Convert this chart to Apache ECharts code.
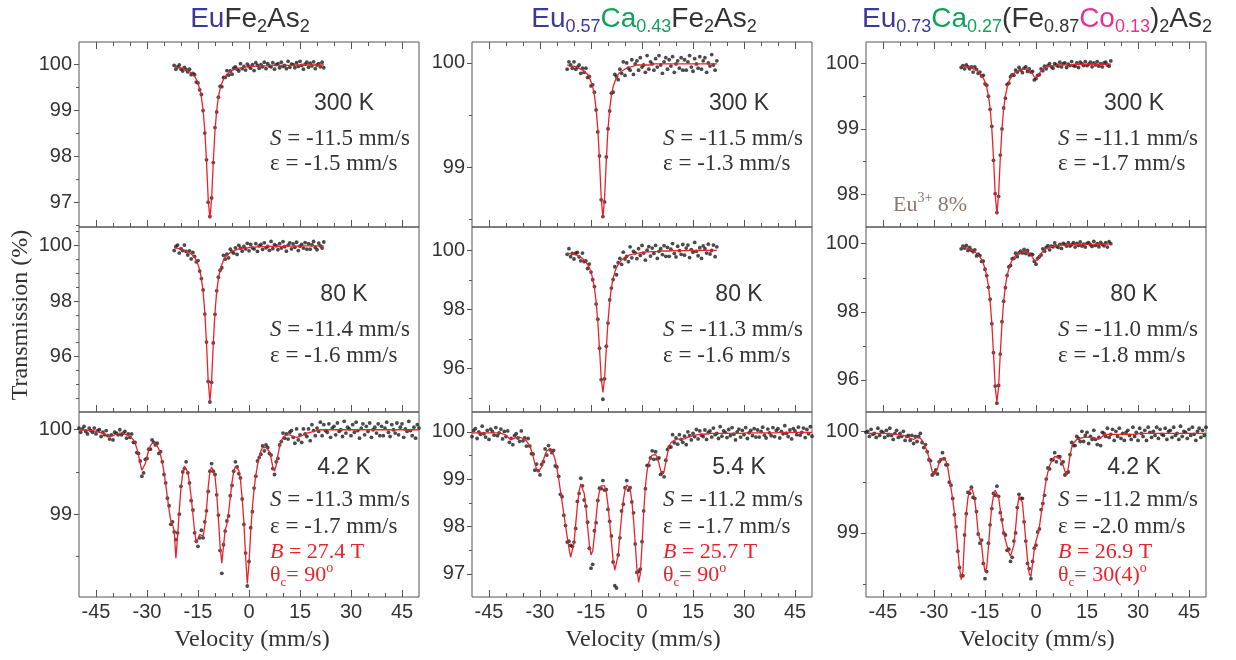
<!DOCTYPE html>
<html><head><meta charset="utf-8">
<script src="https://cdn.jsdelivr.net/npm/echarts@6/dist/echarts.min.js"></script>
<style>html,body{margin:0;padding:0;background:#fff}#c{width:1236px;height:660px}</style>
</head><body><div id="c"></div>
<script>
// ---------- velocity grids (mm/s) ----------
const vTop=[-22,-21.5,-21,-20.5,-20,-19.5,-19,-18.5,-18,-17.5,
-17,-16.5,-16,-15.5,-15,-14.5,-14,-13.5,-13,-12.5,
-12,-11.5,-11,-10.5,-10,-9.5,-9,-8.5,-8,-7.5,
-7,-6.5,-6,-5.5,-5,-4.5,-4,-3.5,-3,-2.5,
-2,-1.5,-1,-0.5,0,0.5,1,1.5,2,2.5,
3,3.5,4,4.5,5,5.5,6,6.5,7,7.5,
8,8.5,9,9.5,10,10.5,11,11.5,12,12.5,
13,13.5,14,14.5,15,15.5,16,16.5,17,17.5,
18,18.5,19,19.5,20,20.5,21,21.5,22];
const vBot=[-50,-49.5,-49,-48.5,-48,-47.5,-47,-46.5,-46,-45.5,
-45,-44.5,-44,-43.5,-43,-42.5,-42,-41.5,-41,-40.5,
-40,-39.5,-39,-38.5,-38,-37.5,-37,-36.5,-36,-35.5,
-35,-34.5,-34,-33.5,-33,-32.5,-32,-31.5,-31,-30.5,
-30,-29.5,-29,-28.5,-28,-27.5,-27,-26.5,-26,-25.5,
-25,-24.5,-24,-23.5,-23,-22.5,-22,-21.5,-21,-20.5,
-20,-19.5,-19,-18.5,-18,-17.5,-17,-16.5,-16,-15.5,
-15,-14.5,-14,-13.5,-13,-12.5,-12,-11.5,-11,-10.5,
-10,-9.5,-9,-8.5,-8,-7.5,-7,-6.5,-6,-5.5,
-5,-4.5,-4,-3.5,-3,-2.5,-2,-1.5,-1,-0.5,
0,0.5,1,1.5,2,2.5,3,3.5,4,4.5,
5,5.5,6,6.5,7,7.5,8,8.5,9,9.5,
10,10.5,11,11.5,12,12.5,13,13.5,14,14.5,
15,15.5,16,16.5,17,17.5,18,18.5,19,19.5,
20,20.5,21,21.5,22,22.5,23,23.5,24,24.5,
25,25.5,26,26.5,27,27.5,28,28.5,29,29.5,
30,30.5,31,31.5,32,32.5,33,33.5,34,34.5,
35,35.5,36,36.5,37,37.5,38,38.5,39,39.5,
40,40.5,41,41.5,42,42.5,43,43.5,44,44.5,
45,45.5,46,46.5,47,47.5,48,48.5,49,49.5,
50];

// ---------- EuFe2As2 ----------
const fit11=[99.95,99.94,99.94,99.93,99.92,99.91,99.90,99.89,99.87,99.85,
99.82,99.79,99.74,99.68,99.59,99.47,99.29,99.01,98.56,97.90,
97.08,96.65,97.08,97.90,98.56,99.01,99.29,99.47,99.59,99.68,
99.74,99.79,99.82,99.85,99.87,99.89,99.90,99.91,99.92,99.93,
99.94,99.94,99.95,99.95,99.96,99.96,99.96,99.96,99.97,99.97,
99.97,99.97,99.97,99.97,99.97,99.97,99.98,99.98,99.98,99.98,
99.98,99.98,99.98,99.98,99.98,99.98,99.98,99.98,99.98,99.98,
99.99,99.99,99.99,99.99,99.99,99.99,99.99,99.99,99.99,99.99,
99.99,99.99,99.99,99.99,99.99,99.99,99.99,99.99,99.99];
const dat11=[99.98,99.90,99.95,99.99,99.90,99.86,99.94,99.89,99.84,99.90,
99.78,99.81,99.78,99.62,99.60,99.45,99.35,99.00,98.51,97.93,
97.01,96.70,97.10,97.87,98.63,98.97,99.29,99.53,99.52,99.72,
99.72,99.87,99.77,99.86,99.79,99.92,99.95,99.90,99.86,100.02,
99.91,99.96,99.88,100.01,99.96,99.92,100.00,99.87,100.04,99.98,
99.92,100.00,99.95,100.05,99.91,100.02,99.97,99.95,100.04,99.90,
100.00,100.02,99.93,100.05,99.96,99.98,99.91,100.07,99.94,100.01,
100.00,99.93,100.04,99.96,100.07,99.98,99.90,100.01,100.05,99.94,
100.03,99.97,100.06,99.91,99.99,100.02,99.95,100.05,99.93];
const fit21=[99.92,99.91,99.90,99.89,99.87,99.86,99.84,99.81,99.78,99.75,
99.70,99.65,99.57,99.47,99.32,99.12,98.81,98.34,97.60,96.48,
95.12,94.40,95.12,96.48,97.60,98.34,98.81,99.12,99.32,99.47,
99.57,99.65,99.70,99.75,99.78,99.81,99.84,99.86,99.87,99.89,
99.90,99.91,99.92,99.92,99.93,99.94,99.94,99.94,99.95,99.95,
99.95,99.96,99.96,99.96,99.96,99.97,99.97,99.97,99.97,99.97,
99.97,99.97,99.97,99.97,99.98,99.98,99.98,99.98,99.98,99.98,
99.98,99.98,99.98,99.98,99.98,99.98,99.99,99.99,99.99,99.99,
99.99,99.99,99.99,99.99,99.99,99.99,99.99,99.99,99.99];
const dat21=[99.82,99.97,100.02,99.73,99.89,99.82,100.02,99.79,99.66,99.81,
99.52,99.75,99.61,99.41,99.46,99.08,98.81,98.40,97.53,96.52,
95.10,94.36,95.07,96.49,97.52,98.37,98.86,99.11,99.20,99.65,
99.51,99.69,99.56,99.87,99.78,99.73,99.92,99.68,100.01,99.91,
99.80,99.97,99.88,100.08,99.81,100.04,99.92,99.88,100.07,99.79,
99.99,100.04,99.86,100.10,99.92,99.97,99.83,100.15,99.89,100.03,
99.99,99.85,100.07,99.91,100.14,99.96,99.80,100.02,100.10,99.88,
100.06,99.94,100.12,99.82,99.98,100.04,99.91,100.11,99.87,100.07,
99.87,100.03,100.15,99.93,99.85,100.09,99.99,99.91,100.13];
const fit31=[100,100,100,100,100,99.99,99.99,99.99,99.99,99.98,
99.98,99.97,99.97,99.96,99.96,99.95,99.94,99.93,99.92,99.92,
99.93,99.94,99.95,99.96,99.96,99.96,99.96,99.95,99.94,99.93,
99.92,99.90,99.88,99.84,99.78,99.70,99.60,99.52,99.53,99.60,
99.68,99.76,99.81,99.84,99.85,99.84,99.82,99.77,99.70,99.61,
99.50,99.35,99.20,99.05,98.92,98.88,98.80,98.48,98.74,99.05,
99.32,99.48,99.57,99.58,99.50,99.37,99.20,99.00,98.80,98.66,
98.66,98.76,98.78,98.74,98.86,99.05,99.32,99.50,99.56,99.54,
99.45,99.24,98.95,98.62,98.42,98.62,98.82,98.88,99.02,99.20,
99.38,99.50,99.57,99.58,99.52,99.40,99.18,98.90,98.50,98.18,
98.42,98.80,99.08,99.30,99.46,99.58,99.68,99.75,99.79,99.80,
99.79,99.78,99.74,99.66,99.56,99.51,99.58,99.70,99.80,99.87,
99.91,99.93,99.94,99.94,99.94,99.93,99.92,99.91,99.91,99.91,
99.92,99.93,99.94,99.95,99.96,99.97,99.97,99.98,99.98,99.99,
99.99,100,100,100,100,100,100,100,100,100,
100,100,100,100,100,100,100,100,100,100,
100,100,100,100,100,100,100,100,100,100,
100,100,100,100,100,100,100,100,100,100,
100,100,100,100,100,100,100,100,100,100,
100,100,100,100,100,100,100,100,100,100,
100];
const dat31=[100.02,99.97,100.01,100.04,99.98,99.95,100.02,99.99,99.97,100.02,
99.95,99.99,100.00,99.92,99.97,99.94,99.99,99.93,99.89,99.94,
99.88,99.97,99.96,99.94,100.00,99.94,99.96,99.98,99.90,99.95,
99.91,99.95,99.85,99.85,99.73,99.72,99.63,99.45,99.49,99.65,
99.66,99.77,99.77,99.88,99.85,99.82,99.84,99.72,99.74,99.62,
99.47,99.37,99.19,99.10,98.88,98.91,98.79,98.70,98.78,99.00,
99.33,99.50,99.54,99.62,99.49,99.37,99.16,99.05,98.78,98.68,
98.62,98.72,98.81,98.72,98.91,99.04,99.27,99.51,99.60,99.51,
99.47,99.23,98.99,98.57,98.30,98.64,98.80,98.92,98.98,99.22,
99.34,99.51,99.62,99.56,99.48,99.43,99.18,98.88,98.54,98.15,
98.44,98.84,99.03,99.31,99.45,99.63,99.67,99.71,99.81,99.75,
99.82,99.79,99.72,99.70,99.54,99.47,99.62,99.66,99.82,99.86,
99.96,99.90,99.95,99.89,99.97,99.99,99.91,99.84,100.01,99.88,
99.94,99.85,100.01,99.95,99.92,100.01,99.87,100.06,99.99,99.93,
100.02,99.98,100.09,99.93,100.06,99.99,99.97,100.07,99.91,100.02,
100.04,99.94,100.08,99.98,100.00,99.92,100.10,99.96,100.03,100.01,
99.93,100.06,99.97,100.09,99.99,99.90,100.02,100.07,99.94,100.04,
99.98,100.08,99.91,100.00,100.03,99.96,100.07,99.93,100.04,99.93,
100.02,100.09,99.97,99.92,100.06,100.00,99.96,100.08,99.94,100.03,
100.07,99.91,100.01,99.98,100.10,99.99,99.93,100.03,99.90,100.06,
100.02];

// ---------- Eu0.57Ca0.43Fe2As2 ----------
const fit12=[99.98,99.98,99.97,99.97,99.97,99.96,99.96,99.95,99.94,99.93,
99.92,99.91,99.89,99.86,99.82,99.77,99.69,99.56,99.37,99.07,
98.71,98.52,98.71,99.07,99.37,99.56,99.69,99.77,99.82,99.86,
99.89,99.91,99.92,99.93,99.94,99.95,99.96,99.96,99.97,99.97,
99.97,99.98,99.98,99.98,99.98,99.98,99.98,99.98,99.98,99.98,
99.98,99.99,99.99,99.99,99.99,99.99,99.99,99.99,99.99,99.99,
99.99,99.99,99.99,99.99,99.99,99.99,99.99,99.99,99.99,99.99,
99.99,99.99,99.99,99.99,99.99,99.99,99.99,99.99,99.99,99.99,
99.99,99.99,99.99,99.99,99.99,99.99,99.99,99.99,99.99];
const dat12=[99.94,100.01,99.98,99.95,100.01,99.94,99.96,99.98,99.90,99.95,
99.91,99.95,99.86,99.87,99.78,99.79,99.72,99.55,99.34,99.11,
98.69,98.53,98.67,99.10,99.37,99.54,99.71,99.72,99.89,99.87,
99.84,99.94,99.90,100.01,99.88,100.00,99.95,99.93,100.03,99.89,
99.99,100.02,99.93,100.05,99.96,99.98,99.91,100.07,99.94,100.01,
99.99,99.93,100.04,99.96,100.07,99.98,99.90,100.01,100.05,99.94,
100.03,99.97,100.06,99.91,99.99,100.02,99.95,100.05,99.93,100.03,
99.93,100.01,100.07,99.96,99.92,100.04,99.99,99.95,100.06,99.94,
100.02,100.05,99.91,100.00,99.97,100.08,99.98,99.93,100.02];
const fit22=[99.90,99.89,99.88,99.87,99.86,99.84,99.82,99.79,99.76,99.72,
99.67,99.60,99.52,99.41,99.26,99.04,98.73,98.27,97.60,96.68,
95.68,95.20,95.68,96.68,97.60,98.27,98.73,99.04,99.26,99.41,
99.52,99.60,99.67,99.72,99.76,99.79,99.82,99.84,99.86,99.87,
99.88,99.89,99.90,99.91,99.92,99.93,99.93,99.94,99.94,99.95,
99.95,99.95,99.95,99.96,99.96,99.96,99.97,99.97,99.97,99.97,
99.97,99.97,99.98,99.98,99.98,99.98,99.98,99.98,99.98,99.98,
99.98,99.99,99.99,99.99,99.99,99.99,99.99,99.99,99.99,99.99,
99.99,99.99,99.99,99.99,99.99,99.99,99.99,99.99,99.99];
const dat22=[99.86,100.05,99.78,99.89,99.70,99.90,99.92,99.77,99.64,99.90,
99.61,99.64,99.38,99.53,99.26,99.00,98.77,98.18,97.67,96.69,
95.63,94.97,95.66,96.76,97.54,98.32,98.72,99.01,99.44,99.17,
99.58,99.72,99.52,99.93,99.70,99.79,99.61,100.11,99.74,99.96,
99.91,99.71,100.05,99.82,100.16,99.90,99.66,100.00,100.12,99.80,
100.07,99.89,100.16,99.72,99.96,100.05,99.85,100.15,99.79,100.09,
99.79,100.03,100.22,99.89,99.77,100.13,99.98,99.86,100.19,99.83,
100.07,100.17,99.75,100.02,99.93,100.26,99.96,99.81,100.08,99.72,
100.14,100.05,99.90,100.20,99.87,99.99,100.17,99.78,100.11];
const fit32=[99.98,99.98,99.98,99.98,99.98,99.98,99.98,99.98,99.98,99.98,
99.98,99.98,99.98,99.98,99.98,99.98,99.98,99.97,99.96,99.95,
99.93,99.90,99.86,99.84,99.85,99.87,99.88,99.89,99.89,99.88,
99.86,99.84,99.81,99.77,99.70,99.60,99.47,99.33,99.21,99.16,
99.17,99.26,99.40,99.52,99.60,99.63,99.64,99.61,99.52,99.40,
99.23,99.00,98.76,98.52,98.27,98.02,97.78,97.55,97.35,97.38,
97.65,98.05,98.45,98.75,98.90,98.88,98.70,98.40,98.00,97.62,
97.40,97.48,97.80,98.20,98.55,98.76,98.86,98.88,98.86,98.72,
98.45,98.08,97.68,97.30,97.08,97.10,97.40,97.82,98.22,98.55,
98.77,98.88,98.89,98.80,98.55,98.15,97.65,97.12,96.82,97.00,
97.60,98.30,98.85,99.18,99.35,99.45,99.51,99.53,99.52,99.46,
99.33,99.18,99.12,99.17,99.35,99.55,99.70,99.77,99.80,99.82,
99.84,99.85,99.85,99.84,99.84,99.85,99.87,99.89,99.90,99.91,
99.92,99.93,99.93,99.94,99.94,99.95,99.95,99.95,99.96,99.96,
99.96,99.97,99.97,99.97,99.97,99.97,99.97,99.97,99.97,99.97,
99.97,99.97,99.97,99.97,99.97,99.97,99.97,99.97,99.97,99.97,
99.97,99.98,99.98,99.98,99.98,99.98,99.98,99.98,99.98,99.98,
99.98,99.98,99.98,99.98,99.98,99.98,99.98,99.98,99.98,99.98,
99.98,99.99,99.99,99.99,99.99,99.99,99.99,99.99,99.99,99.99,
99.99,99.99,99.99,99.99,99.99,99.99,99.99,99.99,99.99,99.99,
99.99];
const dat32=[99.90,100.03,100.07,99.86,100.00,99.95,100.12,99.96,99.89,100.03,
99.84,100.06,100.01,99.93,100.09,99.92,99.98,100.06,99.85,100.01,
99.90,100.02,99.78,99.86,99.73,99.92,99.96,99.87,99.80,100.02,
99.81,99.87,99.70,99.86,99.70,99.54,99.53,99.19,99.32,99.18,
99.09,99.31,99.37,99.64,99.51,99.71,99.62,99.56,99.61,99.28,
99.26,99.06,98.68,98.63,98.24,98.02,97.67,97.69,97.60,97.58,
97.67,97.96,98.53,98.70,99.02,98.86,98.56,98.43,98.09,97.54,
97.12,97.20,97.91,98.08,98.55,98.81,98.80,98.97,98.77,98.78,
98.36,98.11,97.80,97.25,96.75,96.70,97.40,97.76,98.33,98.47,
98.82,98.97,98.77,98.82,98.52,98.29,97.63,97.03,97.05,97.10,
97.68,98.33,98.80,99.29,99.29,99.45,99.60,99.42,99.58,99.43,
99.45,99.10,99.14,99.05,99.40,99.63,99.68,99.68,99.94,99.77,
99.87,99.74,99.94,99.84,99.78,99.91,99.73,100.00,99.92,99.83,
99.97,99.90,100.05,99.85,100.02,99.93,99.90,100.04,99.84,99.99,
100.02,99.89,100.08,99.94,99.97,99.86,100.11,99.91,100.02,99.99,
99.88,100.05,99.92,100.09,99.95,99.83,100.00,100.06,99.89,100.03,
99.94,100.09,99.86,99.98,100.03,99.92,100.07,99.89,100.04,99.89,
100.01,100.10,99.93,99.87,100.06,99.98,99.92,100.09,99.90,100.03,
100.07,99.87,100.01,99.96,100.13,99.97,99.90,100.04,99.85,100.07,
100.02,99.94,100.10,99.93,99.99,100.08,99.88,100.05,99.96,100.11,
99.91];

// ---------- Eu0.73Ca0.27(Fe0.87Co0.13)2As2 ----------
const fit13=[99.96,99.96,99.96,99.95,99.95,99.94,99.93,99.92,99.91,99.90,
99.88,99.85,99.82,99.78,99.72,99.64,99.51,99.32,99.01,98.56,
98.00,97.70,98.00,98.56,99.01,99.32,99.51,99.63,99.72,99.78,
99.82,99.85,99.87,99.89,99.90,99.91,99.91,99.92,99.92,99.91,
99.90,99.88,99.84,99.79,99.77,99.80,99.85,99.89,99.92,99.94,
99.95,99.96,99.96,99.97,99.97,99.97,99.98,99.98,99.98,99.98,
99.98,99.98,99.98,99.98,99.98,99.98,99.98,99.99,99.99,99.99,
99.99,99.99,99.99,99.99,99.99,99.99,99.99,99.99,99.99,99.99,
99.99,99.99,99.99,99.99,99.99,99.99,99.99,99.99,99.99];
const dat13=[99.94,99.97,99.92,99.98,99.95,99.92,99.95,99.87,99.95,99.91,
99.85,99.87,99.81,99.82,99.69,99.67,99.50,99.30,99.04,98.52,
98.01,97.72,97.97,98.60,99.00,99.32,99.47,99.68,99.70,99.80,
99.83,99.82,99.90,99.87,99.94,99.90,99.86,99.93,99.95,99.88,
99.92,99.87,99.88,99.75,99.77,99.82,99.83,99.92,99.89,99.96,
99.92,99.97,100.00,99.95,99.93,100.00,99.98,99.96,100.02,99.95,
100.00,100.01,99.94,99.99,99.97,100.03,99.97,99.96,100.01,99.94,
100.02,100.00,99.97,100.03,99.97,99.99,100.02,99.95,100.01,99.98,
100.03,99.96,100.00,99.95,100.01,100.02,99.98,99.96,100.04];
const fit23=[99.90,99.90,99.89,99.87,99.86,99.84,99.82,99.79,99.76,99.72,
99.67,99.61,99.53,99.42,99.27,99.06,98.76,98.32,97.67,96.78,
95.81,95.35,95.81,96.78,97.67,98.32,98.76,99.06,99.26,99.41,
99.52,99.59,99.65,99.70,99.73,99.75,99.77,99.77,99.77,99.76,
99.73,99.67,99.60,99.51,99.47,99.52,99.62,99.71,99.78,99.83,
99.86,99.88,99.90,99.92,99.93,99.93,99.94,99.95,99.95,99.95,
99.96,99.96,99.96,99.96,99.97,99.97,99.97,99.97,99.97,99.97,
99.97,99.98,99.98,99.98,99.98,99.98,99.98,99.98,99.98,99.98,
99.98,99.98,99.98,99.98,99.98,99.99,99.99,99.99,99.99];
const dat23=[99.85,99.93,99.87,99.95,99.80,99.89,99.81,99.76,99.82,99.64,
99.69,99.65,99.48,99.49,99.25,99.06,98.72,98.37,97.65,96.80,
95.82,95.32,95.84,96.76,97.71,98.31,98.71,99.07,99.32,99.36,
99.56,99.57,99.72,99.62,99.73,99.78,99.73,99.83,99.71,99.80,
99.67,99.69,99.68,99.48,99.40,99.57,99.62,99.67,99.85,99.78,
99.89,99.94,99.82,99.93,99.91,100.02,99.93,99.89,99.98,99.86,
100.01,99.98,99.93,100.03,99.93,99.97,100.03,99.90,100.01,99.95,
100.05,99.93,99.99,99.90,100.01,100.03,99.97,99.92,100.07,99.95,
100.00,99.91,100.04,99.98,99.94,100.03,99.90,100.06,100.00];
const fit33=[99.98,99.98,99.98,99.98,99.98,99.98,99.98,99.98,99.98,99.98,
99.98,99.98,99.98,99.98,99.98,99.97,99.97,99.97,99.97,99.97,
99.96,99.96,99.96,99.96,99.95,99.94,99.93,99.92,99.92,99.93,
99.94,99.94,99.93,99.91,99.88,99.84,99.80,99.74,99.67,99.60,
99.57,99.58,99.63,99.69,99.73,99.74,99.74,99.71,99.65,99.55,
99.44,99.33,99.20,99.02,98.84,98.66,98.54,98.62,98.96,99.20,
99.35,99.42,99.44,99.40,99.32,99.18,99.00,98.94,98.88,98.72,
98.62,98.66,98.86,99.08,99.26,99.37,99.42,99.42,99.35,99.23,
99.11,99.01,98.93,98.87,98.81,98.77,98.78,98.88,99.05,99.24,
99.36,99.37,99.30,99.12,98.92,98.74,98.60,98.57,98.70,98.84,
98.92,98.98,99.06,99.18,99.30,99.42,99.52,99.60,99.66,99.70,
99.73,99.75,99.75,99.75,99.73,99.70,99.66,99.61,99.57,99.64,
99.76,99.84,99.88,99.90,99.92,99.93,99.93,99.94,99.94,99.94,
99.94,99.94,99.94,99.94,99.94,99.93,99.92,99.92,99.93,99.95,
99.96,99.97,99.97,99.97,99.97,99.97,99.97,99.97,99.97,99.97,
99.97,99.97,99.97,99.97,99.97,99.97,99.97,99.97,99.97,99.97,
99.97,99.98,99.98,99.98,99.98,99.98,99.98,99.98,99.98,99.98,
99.98,99.98,99.98,99.98,99.98,99.98,99.98,99.98,99.98,99.98,
99.98,99.98,99.98,99.98,99.98,99.98,99.98,99.98,99.98,99.98,
99.98,99.98,99.98,99.98,99.98,99.98,99.98,99.98,99.98,99.98,
99.98];
const dat33=[99.99,100.00,99.95,100.02,99.97,99.98,99.94,100.03,99.96,100.00,
99.99,99.94,100.01,99.96,100.03,99.96,99.92,99.98,100.01,99.94,
99.98,99.95,100.00,99.91,99.95,99.96,99.91,99.96,99.88,99.95,
99.90,99.95,99.98,99.89,99.84,99.87,99.80,99.72,99.71,99.57,
99.59,99.62,99.58,99.70,99.72,99.79,99.73,99.67,99.67,99.50,
99.47,99.34,99.18,99.06,98.82,98.66,98.58,98.58,98.98,99.19,
99.40,99.39,99.45,99.35,99.34,99.21,98.99,98.90,98.93,98.70,
98.55,98.62,98.90,99.08,99.24,99.39,99.37,99.46,99.36,99.20,
99.13,99.00,98.98,98.83,98.84,98.72,98.76,98.92,99.00,99.25,
99.38,99.34,99.34,99.11,98.92,98.70,98.65,98.55,98.72,98.85,
98.88,99.01,99.04,99.23,99.29,99.37,99.53,99.64,99.63,99.72,
99.72,99.79,99.70,99.75,99.75,99.68,99.70,99.57,99.59,99.60,
99.77,99.89,99.86,99.86,99.95,99.93,99.90,100.00,99.90,99.96,
99.99,99.88,99.95,99.92,100.01,99.92,99.87,99.94,99.86,99.99,
99.98,99.95,100.03,99.94,99.97,100.02,99.91,100.00,99.95,100.03,
99.93,99.98,99.91,99.99,100.01,99.96,99.92,100.04,99.95,99.99,
99.91,100.03,99.98,99.95,100.01,99.91,100.04,99.99,99.94,100.00,
99.96,100.04,99.93,100.02,99.97,99.96,100.03,99.92,100.00,100.01,
99.94,100.04,99.96,99.98,99.92,100.05,99.95,100.00,99.99,99.93,
100.02,99.96,100.04,99.97,99.91,100.00,100.03,99.94,100.01,99.96,
100.04];

// ---------- tick labels ----------
const xTickLabels=[-45,-30,-15,0,15,30,45];
const xMinorTicks=[-40,-35,-25,-20,-10,-5,5,10,20,25,35,40];
const yLab11=[97,98,99,100], yMin11=[96.5,97.5,98.5,99.5];
const yLab21=[96,98,100], yMin21=[94.5,95,95.5,96.5,97,97.5,98.5,99,99.5,100.5];
const yLab31=[99,100], yMin31=[98.5,99.5];
const yLab12=[99,100], yMin12=[98.5,99.5];
const yLab22=[96,98,100], yMin22=[95,97,99];
const yLab32=[97,98,99,100], yMin32=[97.5,98.5,99.5];
const yLab13=[98,99,100], yMin13=[98.5,99.5];
const yLab23=[96,98,100], yMin23=[97,99];
const yLab33=[99,100], yMin33=[98.5,99.5];

// ---------- text content ----------
const tempLabels=[['300 K','80 K','4.2 K'],['300 K','80 K','5.4 K'],['300 K','80 K','4.2 K']];
const sVals=[['-11.5','-11.4','-11.3'],['-11.5','-11.3','-11.2'],['-11.1','-11.0','-11.2']];
const epsVals=[['-1.5','-1.6','-1.7'],['-1.3','-1.6','-1.7'],['-1.7','-1.8','-2.0']];
const bVals=['27.4','25.7','26.9'];
const thetaVals=['90','90','30(4)'];

// ---------- panel setup ----------
const panels=[
 {row:0,col:0,v:vTop,fit:fit11,dat:dat11,ymin:96.47,ymax:100.49,yl:yLab11,ym:yMin11},
 {row:1,col:0,v:vTop,fit:fit21,dat:dat21,ymin:94.0,ymax:100.67,yl:yLab21,ym:yMin21},
 {row:2,col:0,v:vBot,fit:fit31,dat:dat31,ymin:98.02,ymax:100.21,yl:yLab31,ym:yMin31},
 {row:0,col:1,v:vTop,fit:fit12,dat:dat12,ymin:98.43,ymax:100.2,yl:yLab12,ym:yMin12},
 {row:1,col:1,v:vTop,fit:fit22,dat:dat22,ymin:94.54,ymax:100.78,yl:yLab22,ym:yMin22},
 {row:2,col:1,v:vBot,fit:fit32,dat:dat32,ymin:96.51,ymax:100.42,yl:yLab32,ym:yMin32},
 {row:0,col:2,v:vTop,fit:fit13,dat:dat13,ymin:97.5,ymax:100.33,yl:yLab13,ym:yMin13},
 {row:1,col:2,v:vTop,fit:fit23,dat:dat23,ymin:95.06,ymax:100.49,yl:yLab23,ym:yMin23},
 {row:2,col:2,v:vBot,fit:fit33,dat:dat33,ymin:98.37,ymax:100.19,yl:yLab33,ym:yMin33}
];
const colLeft=[79,472,866], rowTop=[42,227,412], PW=340, PH=185;
const AX='#555', TXT='#333', RED='#e8232b';
const SANS='"Liberation Sans", Arial, sans-serif';
const SERIF='"Liberation Serif", "Times New Roman", serif';

const grid=[], xAxis=[], yAxis=[], series=[];
panels.forEach((p,k)=>{
  grid.push({left:colLeft[p.col],top:rowTop[p.row],width:PW,height:PH,show:true,borderColor:AX,borderWidth:1,backgroundColor:'transparent'});
  const base={gridIndex:k,type:'value',min:-50,max:50,axisLine:{show:false,onZero:false},splitLine:{show:false}};
  const xi=xAxis.length;
  xAxis.push(Object.assign({},base,{position:'bottom',
    axisTick:{show:true,inside:true,length:4,customValues:xMinorTicks,lineStyle:{color:AX}},
    axisLabel:{show:p.row===2,customValues:xTickLabels,fontSize:20,color:TXT,fontFamily:SANS,margin:5}}));
  xAxis.push(Object.assign({},base,{position:'bottom',
    axisTick:{show:true,inside:true,length:7,customValues:xTickLabels,lineStyle:{color:AX}},
    axisLabel:{show:false}}));
  if(p.row===0){
    xAxis.push(Object.assign({},base,{position:'top',
      axisTick:{show:true,inside:true,length:4,customValues:xMinorTicks,lineStyle:{color:AX}},axisLabel:{show:false}}));
    xAxis.push(Object.assign({},base,{position:'top',
      axisTick:{show:true,inside:true,length:7,customValues:xTickLabels,lineStyle:{color:AX}},axisLabel:{show:false}}));
  }
  const yi=yAxis.length;
  const yb={gridIndex:k,type:'value',min:p.ymin,max:p.ymax,position:'left',axisLine:{show:false,onZero:false},splitLine:{show:false}};
  yAxis.push(Object.assign({},yb,{
    axisTick:{show:true,inside:false,length:5,customValues:p.yl,lineStyle:{color:AX}},
    axisLabel:{customValues:p.yl,fontSize:20,color:TXT,fontFamily:SANS,margin:7}}));
  yAxis.push(Object.assign({},yb,{
    axisTick:{show:true,inside:false,length:3,customValues:p.ym,lineStyle:{color:AX}},
    axisLabel:{show:false}}));
  series.push({type:'scatter',xAxisIndex:xi,yAxisIndex:yi,symbolSize:3.8,silent:true,
    itemStyle:{color:'#1e1e1e'},data:p.v.map((x,i)=>[x,p.dat[i]]),z:2});
  series.push({type:'line',xAxisIndex:xi,yAxisIndex:yi,showSymbol:false,silent:true,
    lineStyle:{color:RED,width:1.3},data:p.fit.map((y,i)=>[p.v[i],y]),z:3});
});

// ---------- texts ----------
const g=[];
function addText(x,y,text,style,extra){
  g.push(Object.assign({type:'text',x:x,y:y,silent:true,
    style:Object.assign({text:text,align:'left',verticalAlign:'middle',fill:TXT,fontFamily:SERIF,fontSize:23},style)},extra||{}));
}
const titleRich={
  eu:{fill:'#3a3a98',fontFamily:SANS,fontSize:28,lineHeight:34},
  eus:{fill:'#3a3a98',fontFamily:SANS,fontSize:18,lineHeight:18,verticalAlign:'bottom'},
  ca:{fill:'#12a15a',fontFamily:SANS,fontSize:28,lineHeight:34},
  cas:{fill:'#12a15a',fontFamily:SANS,fontSize:18,lineHeight:18,verticalAlign:'bottom'},
  co:{fill:'#e8318f',fontFamily:SANS,fontSize:28,lineHeight:34},
  cos:{fill:'#e8318f',fontFamily:SANS,fontSize:18,lineHeight:18,verticalAlign:'bottom'},
  k:{fill:TXT,fontFamily:SANS,fontSize:28,lineHeight:34},
  ks:{fill:TXT,fontFamily:SANS,fontSize:18,lineHeight:18,verticalAlign:'bottom'}
};
const titles=['{eu|Eu}{k|Fe}{ks|2}{k|As}{ks|2}',
  '{eu|Eu}{eus|0.57}{ca|Ca}{cas|0.43}{k|Fe}{ks|2}{k|As}{ks|2}',
  '{eu|Eu}{eus|0.73}{ca|Ca}{cas|0.27}{k|(Fe}{ks|0.87}{co|Co}{cos|0.13}{k|)}{ks|2}{k|As}{ks|2}'];
const titleX=[250,644,1037];
titles.forEach((t,c)=>addText(titleX[c],19,t,{align:'center',rich:titleRich}));

const annRich={
  it:{fontStyle:'italic',fontFamily:SERIF,fontSize:23,fill:TXT,lineHeight:28},
  bi:{fontStyle:'italic',fontFamily:SERIF,fontSize:22,fill:RED,lineHeight:28},
  r:{fontFamily:SERIF,fontSize:22,fill:RED,lineHeight:28},
  rsub:{fontFamily:SERIF,fontSize:13,fill:RED,lineHeight:13,verticalAlign:'bottom'},
  rsup:{fontFamily:SERIF,fontSize:14,fill:RED,lineHeight:14,verticalAlign:'top'},
  g:{fontFamily:SERIF,fontSize:22,fill:'#8a7870',lineHeight:28},
  gsup:{fontFamily:SERIF,fontSize:14,fill:'#8a7870',lineHeight:14,verticalAlign:'top'}
};
const colX=[270,663,1058], colK=[344,739,1134], colC=[252,643,1037];
const kY=[104,294.5,467.5], sY=[139,330,500], eY=[164,356,527], bY=552, tY=575;
for(let c=0;c<3;c++){
  for(let r=0;r<3;r++){
    addText(colK[c],kY[r],tempLabels[c][r],{align:'center',fontFamily:SANS,fontSize:23});
    addText(colX[c],sY[r],'{it|S} = '+sVals[c][r]+' mm/s',{lineHeight:28,rich:annRich});
    addText(colX[c],eY[r],'ε = '+epsVals[c][r]+' mm/s',{lineHeight:28});
  }
  addText(colX[c],bY,'{bi|B}{r| = '+bVals[c]+' T}',{rich:annRich,fill:RED,lineHeight:28});
  addText(colX[c],tY,'{r|θ}{rsub|c}{r|= '+thetaVals[c]+'}{rsup|o}',{rich:annRich,fill:RED,lineHeight:28});
  addText(colC[c],640,'Velocity (mm/s)',{align:'center',fontSize:24});
}
addText(893,205,'{g|Eu}{gsup|3+}{g| 8%}',{rich:annRich});
addText(21,315,'Transmission (%)',{align:'center',fontSize:24},{rotation:Math.PI/2});

const chart=echarts.init(document.getElementById('c'),null,{renderer:'canvas',width:1236,height:660});
chart.setOption({animation:false,backgroundColor:'#ffffff',grid:grid,xAxis:xAxis,yAxis:yAxis,series:series,graphic:g});
</script>
</body></html>
